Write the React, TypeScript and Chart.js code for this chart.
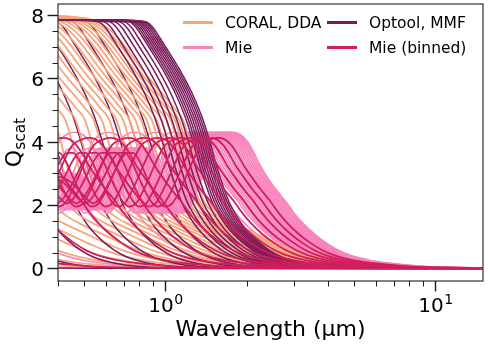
import React, { useEffect, useRef } from 'react';
import { Chart, registerables } from 'chart.js';

Chart.register(...registerables);

// ---- data ----
// Particle radii (µm) of the plotted curves
const RADII_DDA = [0.1, 0.2, 0.3, 0.4, 0.5, 0.6, 0.7, 0.8, 0.9, 1.0, 1.1, 1.2, 1.3, 1.4, 1.5, 1.6, 1.7, 1.8, 1.9, 2.0, 2.1, 2.2, 2.3, 2.4, 2.5, 2.6, 2.7, 2.8, 2.9, 3.0];
const RADII_MMF = [0.2, 0.4, 0.6, 0.8, 1.0, 1.2, 1.4, 1.6, 1.8, 2.0, 2.1, 2.2, 2.3, 2.4, 2.5, 2.6, 2.65, 2.7, 2.75, 2.8, 2.85, 2.9, 2.95, 3.0];
const RADII_MIE = [0.3, 0.6, 0.9, 1.2, 1.5, 1.8, 2.1, 2.3, 2.35, 2.4, 2.45, 2.5, 2.55, 2.6, 2.65, 2.7, 2.75, 2.8, 2.85, 2.9, 2.95, 3.0, 3.05, 3.1, 3.15, 3.2, 3.25, 3.3, 3.35, 3.4, 3.45];
const RADII_BIN = [0.2, 0.4, 0.6, 0.8, 1.0, 1.2, 1.4, 1.6, 1.8, 2.0, 2.2, 2.4, 2.6, 2.8, 3.0];

// Q_scat vs wavelength (µm) for a reference radius of 3 µm
const REF_R = 3.0;
const LAM_DDA = [0.39, 0.45, 0.52, 0.57, 0.62, 0.68, 0.74, 0.8, 0.9, 1.0, 1.08, 1.16, 1.22, 1.3, 1.37, 1.45, 1.6, 1.8, 2.1, 2.4, 2.7, 3.1, 3.6, 4.3, 5.2, 6.5, 8, 10, 13, 16, 30, 500];
const Q_DDA = [7.97, 7.95, 7.88, 7.76, 7.55, 7.2, 6.8, 6.4, 5.85, 5.4, 5.05, 4.7, 4.1, 3.2, 2.55, 2.05, 1.68, 1.42, 1.15, 0.92, 0.72, 0.52, 0.36, 0.23, 0.14, 0.075, 0.04, 0.02, 0.009, 0.004, 0.0005, 0];

const LAM_MMF = [0.39, 0.6, 0.75, 0.85, 0.9, 0.95, 1.0, 1.13, 1.26, 1.37, 1.46, 1.55, 1.65, 1.73, 1.85, 2.0, 2.2, 2.43, 2.7, 3.0, 3.5, 4.0, 5.0, 7, 10, 16, 30, 500];
const Q_MMF = [7.85, 7.85, 7.83, 7.78, 7.6, 7.3, 7.0, 6.27, 5.5, 4.75, 4.0, 3.2, 2.5, 2.05, 1.6, 1.2, 0.85, 0.57, 0.36, 0.23, 0.11, 0.06, 0.022, 0.006, 0.0015, 0.0003, 0.0001, 0];

const LAM_MIE = [0.33, 0.36, 0.39, 0.42, 0.45, 0.48, 0.51, 0.54, 0.57, 0.6, 0.64, 0.68, 0.72, 0.76, 0.8, 0.85, 0.9, 0.95, 1.0, 1.06, 1.12, 1.2, 1.28, 1.36, 1.45, 1.55, 1.65, 1.75, 1.85, 1.95, 2.1, 2.25, 2.43, 2.6, 2.81, 3.1, 3.42, 3.8, 4.2, 5.0, 6.4, 8.0, 10, 13, 16, 25, 500];
const Q_MIE = [2.2, 2.55, 3.0, 2.95, 2.75, 2.4, 2.05, 1.85, 2.0, 2.4, 2.9, 3.4, 3.75, 3.8, 3.5, 2.95, 2.35, 1.95, 1.75, 1.85, 2.3, 2.95, 3.6, 4.05, 4.25, 4.3, 4.22, 4.0, 3.65, 3.25, 2.8, 2.45, 2.1, 1.75, 1.42, 1.08, 0.8, 0.57, 0.41, 0.25, 0.13, 0.06, 0.03, 0.012, 0.005, 0.001, 0];
const Q_BIN = [2.3, 2.6, 2.9, 2.85, 2.7, 2.45, 2.2, 2.05, 2.2, 2.5, 2.95, 3.4, 3.65, 3.65, 3.4, 2.9, 2.45, 2.1, 1.95, 2.05, 2.4, 2.95, 3.5, 3.9, 4.05, 4.12, 4.08, 3.9, 3.6, 3.25, 2.85, 2.5, 2.15, 1.8, 1.45, 1.1, 0.82, 0.58, 0.42, 0.25, 0.13, 0.06, 0.03, 0.012, 0.005, 0.001, 0];

const Y_MAJOR = [0, 2, 4, 6, 8];
const Y_MINOR = [0.5, 1, 1.5, 2.5, 3, 3.5, 4.5, 5, 5.5, 6.5, 7, 7.5];
const X_MAJOR = [1, 10];
const X_MAJOR_EXP = ['0', '1'];
const X_MINOR = [0.4, 0.5, 0.6, 0.7, 0.8, 0.9, 2, 3, 4, 5, 6, 7, 8, 9];

const LEGEND = [
  { label: 'CORAL, DDA', color: '#f6a67d' },
  { label: 'Mie', color: '#f984bd' },
  { label: 'Optool, MMF', color: '#7a1b5a' },
  { label: 'Mie (binned)', color: '#d01f5d' },
];

const FONT = '"DejaVu Sans", "Liberation Sans", sans-serif';

function curvePoints(lams: number[], qs: number[], r: number) {
  return lams.map((l, i) => ({ x: (l * r) / REF_R, y: qs[i] }));
}

const mplPlugin = {
  id: 'mplAxes',
  afterDraw(chart: any) {
    const { ctx, chartArea: a, scales } = chart;
    const xs = scales.x;
    const ys = scales.y;
    ctx.save();
    ctx.strokeStyle = '#3a3a3a';
    ctx.lineWidth = 1.25;
    ctx.strokeRect(a.left, a.top, a.right - a.left, a.bottom - a.top);
    ctx.strokeStyle = '#1a1a1a';
    ctx.fillStyle = '#000';
    ctx.font = `20px ${FONT}`;
    ctx.textAlign = 'right';
    ctx.textBaseline = 'alphabetic';
    Y_MAJOR.forEach((v) => {
      const p = Math.round(ys.getPixelForValue(v)) + 0.5;
      ctx.lineWidth = 1.4;
      ctx.beginPath();
      ctx.moveTo(a.left - 10.5, p);
      ctx.lineTo(a.left, p);
      ctx.stroke();
      ctx.fillText(String(v), a.left - 14, p + 7.2);
    });
    Y_MINOR.forEach((v) => {
      const p = Math.round(ys.getPixelForValue(v)) + 0.5;
      ctx.lineWidth = 1;
      ctx.beginPath();
      ctx.moveTo(a.left - 5.5, p);
      ctx.lineTo(a.left, p);
      ctx.stroke();
    });
    X_MAJOR.forEach((v, i) => {
      const p = Math.round(xs.getPixelForValue(v)) + 0.5;
      ctx.lineWidth = 1.4;
      ctx.beginPath();
      ctx.moveTo(p, a.bottom);
      ctx.lineTo(p, a.bottom + 10.5);
      ctx.stroke();
      ctx.font = `20px ${FONT}`;
      const w1 = ctx.measureText('10').width;
      ctx.font = `14px ${FONT}`;
      const w2 = ctx.measureText(X_MAJOR_EXP[i]).width;
      const x0 = p - (w1 + w2) / 2;
      ctx.textAlign = 'left';
      ctx.font = `20px ${FONT}`;
      ctx.fillText('10', x0, a.bottom + 31);
      ctx.font = `14px ${FONT}`;
      ctx.fillText(X_MAJOR_EXP[i], x0 + w1 + 0.5, a.bottom + 23);
    });
    X_MINOR.forEach((v) => {
      const p = Math.round(xs.getPixelForValue(v)) + 0.5;
      ctx.lineWidth = 1;
      ctx.beginPath();
      ctx.moveTo(p, a.bottom);
      ctx.lineTo(p, a.bottom + 5.5);
      ctx.stroke();
    });
    ctx.font = `22px ${FONT}`;
    ctx.textAlign = 'center';
    ctx.fillText('Wavelength (µm)', (a.left + a.right) / 2, a.bottom + 55);
    ctx.save();
    ctx.translate(21, (a.top + a.bottom) / 2);
    ctx.rotate(-Math.PI / 2);
    ctx.font = `22px ${FONT}`;
    const wq = ctx.measureText('Q').width;
    ctx.font = `15.4px ${FONT}`;
    const ws = ctx.measureText('scat').width;
    const sx = -(wq + ws) / 2;
    ctx.textAlign = 'left';
    ctx.font = `22px ${FONT}`;
    ctx.fillText('Q', sx, 0);
    ctx.font = `15.4px ${FONT}`;
    ctx.fillText('scat', sx + wq, 4);
    ctx.restore();
    ctx.font = `15.5px ${FONT}`;
    ctx.textAlign = 'left';
    ctx.textBaseline = 'middle';
    const cols = [183, 327];
    const rows = [22.5, 47.5];
    LEGEND.forEach((it, k) => {
      const cx = cols[Math.floor(k / 2)];
      const cy = rows[k % 2];
      ctx.strokeStyle = it.color;
      ctx.lineWidth = 3;
      ctx.beginPath();
      ctx.moveTo(cx, cy);
      ctx.lineTo(cx + 30, cy);
      ctx.stroke();
      ctx.fillStyle = '#000';
      ctx.fillText(it.label, cx + 42, cy + 1);
    });
    ctx.restore();
  },
};

export default function App() {
  const ref = useRef<HTMLCanvasElement | null>(null);
  useEffect(() => {
    if (!ref.current) return;
    const mk = (data: any[], color: string, width: number) => ({
      data,
      borderColor: color,
      borderWidth: width,
      pointRadius: 0,
      fill: false,
      cubicInterpolationMode: 'monotone',
      clip: 0,
    });
    // painting order: by radius (CORAL, Mie, small Optool), then large Optool, then Mie (binned)
    type Entry = { key: number; rank: number; ds: any };
    const entries: Entry[] = [];
    RADII_DDA.forEach((r) => entries.push({ key: r, rank: 0, ds: mk(curvePoints(LAM_DDA, Q_DDA, r), LEGEND[0].color, 1.8) }));
    RADII_MIE.forEach((r) => entries.push({ key: r, rank: 1, ds: mk(curvePoints(LAM_MIE, Q_MIE, r), LEGEND[1].color, 1.6) }));
    RADII_MMF.forEach((r) => entries.push({ key: r >= 2 ? r + 10 : r, rank: 2, ds: mk(curvePoints(LAM_MMF, Q_MMF, r), LEGEND[2].color, 1.5) }));
    entries.sort((p, q) => p.key - q.key || p.rank - q.rank);
    const ordered = entries.map((e) => e.ds);
    RADII_BIN.forEach((r) => ordered.push(mk(curvePoints(LAM_MIE, Q_BIN, r), LEGEND[3].color, 1.8)));
    // Chart.js paints the first dataset last, so reverse
    const datasets = ordered.reverse();

    const chart = new Chart(ref.current, {
      type: 'line',
      data: { datasets },
      options: {
        animation: false,
        responsive: false,
        devicePixelRatio: 1,
        layout: { padding: { left: 58, right: 5, top: 4, bottom: 66 } },
        scales: {
          x: { type: 'logarithmic', min: 0.4, max: 15, display: false },
          y: { type: 'linear', min: -0.4, max: 8.35, display: false },
        },
        plugins: { legend: { display: false }, tooltip: { enabled: false } },
        events: [],
      } as any,
      plugins: [mplPlugin],
    });
    return () => chart.destroy();
  }, []);
  return (
    <div style={{ position: 'absolute', left: 0, top: 0, width: 488, height: 347, background: '#fff' }}>
      <canvas ref={ref} width={488} height={347} style={{ display: 'block' }} />
    </div>
  );
}
